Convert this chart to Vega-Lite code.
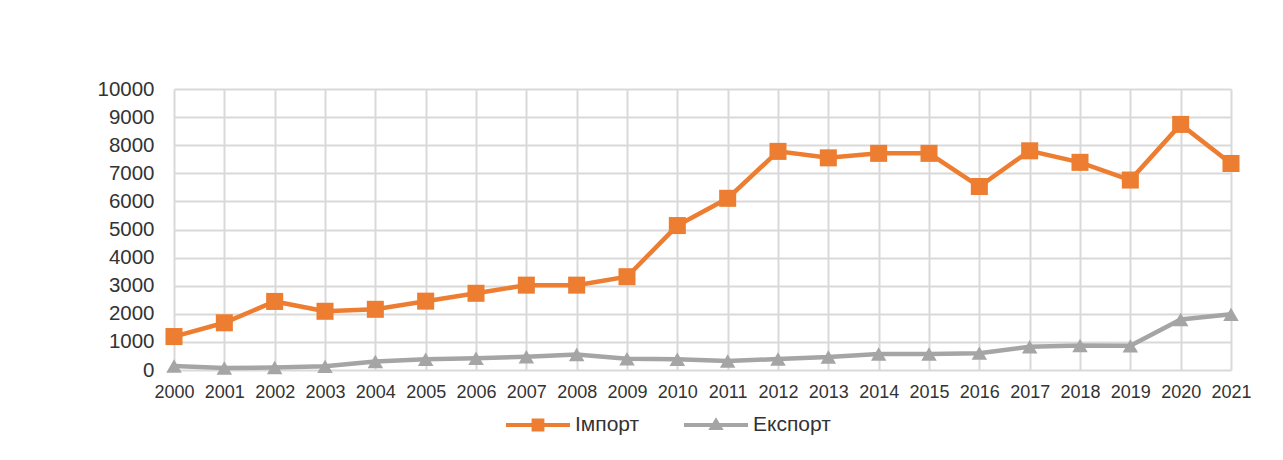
{
  "$schema": "https://vega.github.io/schema/vega-lite/v6.json",
  "width": 1057,
  "height": 281,
  "autosize": {"type": "none"},
  "padding": {"left": 174, "top": 89, "right": 52, "bottom": 90},
  "background": "white",
  "config": {
    "view": {"stroke": null},
    "font": "Liberation Sans",
    "axis": {"labelFont": "Liberation Sans", "labelColor": "#333333", "gridColor": "#d9d9d9", "gridWidth": 2, "domain": false, "ticks": false},
    "legend": {"labelFont": "Liberation Sans"}
  },
  "data": {
    "values": [
      {"year": "2000", "series": "Імпорт", "value": 1190},
      {"year": "2001", "series": "Імпорт", "value": 1680},
      {"year": "2002", "series": "Імпорт", "value": 2440},
      {"year": "2003", "series": "Імпорт", "value": 2090},
      {"year": "2004", "series": "Імпорт", "value": 2160},
      {"year": "2005", "series": "Імпорт", "value": 2450},
      {"year": "2006", "series": "Імпорт", "value": 2730},
      {"year": "2007", "series": "Імпорт", "value": 3020},
      {"year": "2008", "series": "Імпорт", "value": 3020},
      {"year": "2009", "series": "Імпорт", "value": 3320},
      {"year": "2010", "series": "Імпорт", "value": 5140},
      {"year": "2011", "series": "Імпорт", "value": 6110},
      {"year": "2012", "series": "Імпорт", "value": 7780},
      {"year": "2013", "series": "Імпорт", "value": 7550},
      {"year": "2014", "series": "Імпорт", "value": 7710},
      {"year": "2015", "series": "Імпорт", "value": 7710},
      {"year": "2016", "series": "Імпорт", "value": 6530},
      {"year": "2017", "series": "Імпорт", "value": 7800},
      {"year": "2018", "series": "Імпорт", "value": 7390},
      {"year": "2019", "series": "Імпорт", "value": 6760},
      {"year": "2020", "series": "Імпорт", "value": 8740},
      {"year": "2021", "series": "Імпорт", "value": 7350},
      {"year": "2000", "series": "Експорт", "value": 140},
      {"year": "2001", "series": "Експорт", "value": 70},
      {"year": "2002", "series": "Експорт", "value": 90},
      {"year": "2003", "series": "Експорт", "value": 130},
      {"year": "2004", "series": "Експорт", "value": 300},
      {"year": "2005", "series": "Експорт", "value": 380},
      {"year": "2006", "series": "Експорт", "value": 420},
      {"year": "2007", "series": "Експорт", "value": 470},
      {"year": "2008", "series": "Експорт", "value": 550},
      {"year": "2009", "series": "Експорт", "value": 400},
      {"year": "2010", "series": "Експорт", "value": 380},
      {"year": "2011", "series": "Експорт", "value": 320},
      {"year": "2012", "series": "Експорт", "value": 390},
      {"year": "2013", "series": "Експорт", "value": 460},
      {"year": "2014", "series": "Експорт", "value": 570},
      {"year": "2015", "series": "Експорт", "value": 570},
      {"year": "2016", "series": "Експорт", "value": 600},
      {"year": "2017", "series": "Експорт", "value": 830},
      {"year": "2018", "series": "Експорт", "value": 870},
      {"year": "2019", "series": "Експорт", "value": 860},
      {"year": "2020", "series": "Експорт", "value": 1800},
      {"year": "2021", "series": "Експорт", "value": 1980}
    ]
  },
  "encoding": {
    "x": {
      "field": "year", "type": "ordinal", "title": null,
      "scale": {"type": "point", "padding": 0},
      "axis": {"labelAngle": 0, "labelFontSize": 18, "labelPadding": 13, "grid": true}
    },
    "y": {
      "field": "value", "type": "quantitative", "title": null,
      "scale": {"domain": [0, 10000], "nice": false},
      "axis": {"values": [0, 1000, 2000, 3000, 4000, 5000, 6000, 7000, 8000, 9000, 10000], "format": "d", "labelFontSize": 20.5, "labelPadding": 20, "grid": true}
    }
  },
  "layer": [
    {
      "transform": [{"filter": "datum.series === 'Експорт'"}],
      "mark": {"type": "line", "strokeWidth": 4.5, "color": "#A5A5A5"}
    },
    {
      "transform": [{"filter": "datum.series === 'Імпорт'"}],
      "mark": {"type": "line", "strokeWidth": 4.5, "color": "#ED7D31"}
    },
    {
      "transform": [{"filter": "datum.series === 'Експорт'"}],
      "mark": {"type": "point", "shape": "triangle-up", "filled": true, "opacity": 1, "size": 240, "color": "#A5A5A5"}
    },
    {
      "transform": [{"filter": "datum.series === 'Імпорт'"}],
      "mark": {"type": "point", "shape": "square", "filled": true, "opacity": 1, "size": 290, "color": "#ED7D31"}
    },
    {
      "mark": {"type": "point", "filled": true, "opacity": 0},
      "encoding": {
        "color": {
          "field": "series", "type": "nominal",
          "scale": {"domain": ["Імпорт", "Експорт"], "range": ["#ED7D31", "#A5A5A5"]},
          "legend": {
            "title": null,
            "orient": "none",
            "direction": "horizontal",
            "legendX": 332,
            "legendY": 304,
            "padding": 0,
            "symbolSize": 4096,
            "symbolStrokeWidth": 0,
            "symbolOpacity": 1,
            "labelFontSize": 21,
            "labelColor": "#333333",
            "labelOffset": 5,
            "columnPadding": 44
          }
        },
        "shape": {
          "field": "series", "type": "nominal",
          "scale": {
            "domain": ["Імпорт", "Експорт"],
            "range": [
              "M-1,-0.0625H1V0.0625H-1Z M-0.2,-0.2H0.2V0.2H-0.2Z",
              "M-1,-0.0625H1V0.0625H-1Z M0,-0.24L0.24,0.16H-0.24Z"
            ]
          },
          "legend": {
            "title": null,
            "orient": "none",
            "direction": "horizontal",
            "legendX": 332,
            "legendY": 304,
            "padding": 0,
            "symbolSize": 4096,
            "symbolStrokeWidth": 0,
            "symbolOpacity": 1,
            "labelFontSize": 21,
            "labelColor": "#333333",
            "labelOffset": 5,
            "columnPadding": 44,
            "encode": {
              "symbols": {
                "update": {
                  "opacity": {"value": 1},
                  "fillOpacity": {"value": 1},
                  "strokeWidth": {"value": 0}
                }
              }
            }
          }
        }
      }
    }
  ]
}
